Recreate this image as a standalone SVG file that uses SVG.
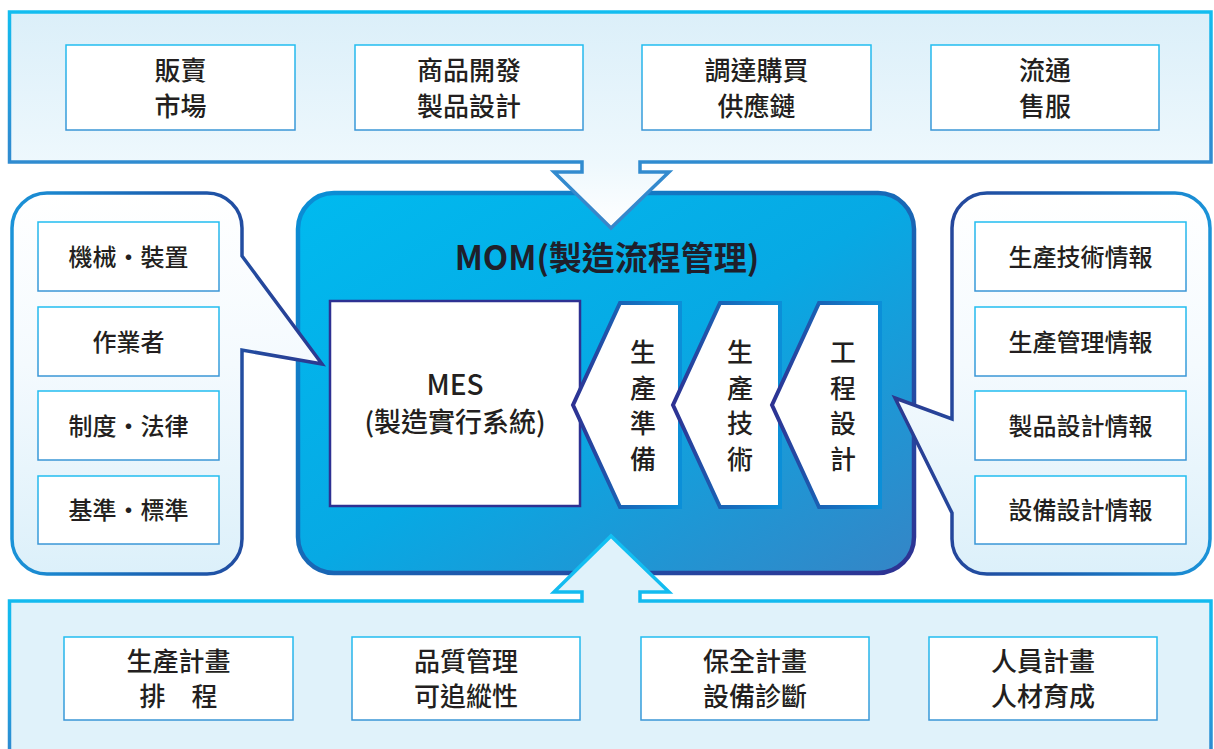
<svg xmlns="http://www.w3.org/2000/svg" width="1214" height="749" viewBox="0 0 1214 749">
<defs>
<linearGradient id="bandTopFill" gradientUnits="userSpaceOnUse" x1="0" y1="12" x2="0" y2="228"><stop offset="0" stop-color="#dbeff9"/><stop offset="0.7" stop-color="#eef8fd"/><stop offset="1" stop-color="#ffffff"/></linearGradient>
<linearGradient id="bandTopStroke" gradientUnits="userSpaceOnUse" x1="0" y1="12" x2="0" y2="228"><stop offset="0" stop-color="#12bdf0"/><stop offset="0.6" stop-color="#2d8dd2"/><stop offset="1" stop-color="#3a86c9"/></linearGradient>
<linearGradient id="bandBotStroke" gradientUnits="userSpaceOnUse" x1="0" y1="536" x2="0" y2="749"><stop offset="0" stop-color="#12c0f2"/><stop offset="0.6" stop-color="#14b5ec"/><stop offset="1" stop-color="#2e8ad0"/></linearGradient>
<linearGradient id="momFill" x1="0" y1="0" x2="1" y2="1"><stop offset="0" stop-color="#00baef"/><stop offset="0.5" stop-color="#07a9e4"/><stop offset="1" stop-color="#3585c6"/></linearGradient>
<linearGradient id="momStroke" x1="0" y1="0" x2="1" y2="1"><stop offset="0" stop-color="#0a8fd6"/><stop offset="0.5" stop-color="#1868b6"/><stop offset="1" stop-color="#2e3192"/></linearGradient>
<linearGradient id="calloutFill" x1="0" y1="0" x2="0" y2="1"><stop offset="0" stop-color="#ffffff"/><stop offset="0.45" stop-color="#f4fafe"/><stop offset="1" stop-color="#dcf0fa"/></linearGradient>
<linearGradient id="leftStroke" x1="0" y1="0" x2="1" y2="0"><stop offset="0" stop-color="#1b93d8"/><stop offset="0.5" stop-color="#1a5fb0"/><stop offset="1" stop-color="#2b3990"/></linearGradient>
<linearGradient id="rightStroke" x1="0" y1="0" x2="1" y2="0"><stop offset="0" stop-color="#2b3990"/><stop offset="0.5" stop-color="#1a5fb0"/><stop offset="1" stop-color="#1b93d8"/></linearGradient>
<linearGradient id="chevStroke" x1="0" y1="0" x2="1" y2="0"><stop offset="0" stop-color="#2e3192"/><stop offset="0.45" stop-color="#1a63b5"/><stop offset="1" stop-color="#0b8fd8"/></linearGradient>
<linearGradient id="boxStroke" x1="0" y1="0" x2="0" y2="1"><stop offset="0" stop-color="#22bdf0"/><stop offset="1" stop-color="#3a96d6"/></linearGradient>
</defs>
<style>
text{font-family:"Noto Sans CJK TC","Noto Sans",sans-serif;fill:#231f20;text-anchor:middle;font-weight:500}
.big{font-size:26px}
.mid{font-size:24px}
.title{font-size:33px;font-weight:bold;fill:#1f1f2b}
.box{fill:#ffffff;stroke:url(#boxStroke);stroke-width:1.5}
.chev{fill:#ffffff;stroke:url(#chevStroke);stroke-width:4;stroke-linejoin:miter}
</style>

<g id="mom">
<rect x="298" y="193" width="616" height="380" rx="36" fill="url(#momFill)" stroke="url(#momStroke)" stroke-width="4.5"/>
<text class="title" x="607" y="270">MOM(製造流程管理)</text>
</g>

<g id="top-band">
<path d="M9.5,12 H1211 V162 H640 V172 H669 L611,228 L554,172 H582 V162 H9.5 Z" fill="url(#bandTopFill)" stroke="url(#bandTopStroke)" stroke-width="3.5" stroke-linejoin="miter"/>
</g>
<g id="bottom-band">
<path d="M9.5,601 H582 V592 H554 L611,536 L669,592 H640 V601 H1211 V760 H9.5 Z" fill="#e0f2fa" stroke="url(#bandBotStroke)" stroke-width="3.5" stroke-linejoin="miter"/>
</g>

<g id="left-callout">
<path d="M47,193 H207 A35,35 0 0 1 242,228 V256 L322,364 L242,350 V539 A35,35 0 0 1 207,574 H47 A35,35 0 0 1 12,539 V228 A35,35 0 0 1 47,193 Z" fill="url(#calloutFill)" stroke="url(#leftStroke)" stroke-width="3.5" stroke-linejoin="miter"/>
</g>
<g id="right-callout">
<path d="M987,193 H1175 A35,35 0 0 1 1210,228 V539 A35,35 0 0 1 1175,574 H987 A35,35 0 0 1 952,539 V513 L895,398 L952,419 V228 A35,35 0 0 1 987,193 Z" fill="url(#calloutFill)" stroke="url(#rightStroke)" stroke-width="3.5" stroke-linejoin="miter"/>
</g>

<g id="top-1"><rect class="box" x="66" y="45" width="229" height="85"/><text class="big"><tspan x="180.5" y="80">販賣</tspan><tspan x="180.5" y="116">市場</tspan></text></g>
<g id="top-2"><rect class="box" x="355" y="45" width="228" height="85"/><text class="big"><tspan x="469" y="80">商品開發</tspan><tspan x="469" y="116">製品設計</tspan></text></g>
<g id="top-3"><rect class="box" x="642" y="45" width="229" height="85"/><text class="big"><tspan x="756.5" y="80">調達購買</tspan><tspan x="756.5" y="116">供應鏈</tspan></text></g>
<g id="top-4"><rect class="box" x="931" y="45" width="228" height="85"/><text class="big"><tspan x="1045" y="80">流通</tspan><tspan x="1045" y="116">售服</tspan></text></g>

<g id="bot-1"><rect class="box" x="64" y="637" width="229" height="83"/><text class="big"><tspan x="178.5" y="671">生產計畫</tspan><tspan x="178.5" y="706">排　程</tspan></text></g>
<g id="bot-2"><rect class="box" x="352" y="637" width="228" height="83"/><text class="big"><tspan x="466" y="671">品質管理</tspan><tspan x="466" y="706">可追縱性</tspan></text></g>
<g id="bot-3"><rect class="box" x="641" y="637" width="228" height="83"/><text class="big"><tspan x="755" y="671">保全計畫</tspan><tspan x="755" y="706">設備診斷</tspan></text></g>
<g id="bot-4"><rect class="box" x="929" y="637" width="228" height="83"/><text class="big"><tspan x="1043" y="671">人員計畫</tspan><tspan x="1043" y="706">人材育成</tspan></text></g>

<g id="left-1"><rect class="box" x="38" y="222" width="181" height="69"/><text class="mid" x="128.5" y="266">機械・裝置</text></g>
<g id="left-2"><rect class="box" x="38" y="307" width="181" height="69"/><text class="mid" x="128.5" y="351">作業者</text></g>
<g id="left-3"><rect class="box" x="38" y="391" width="181" height="69"/><text class="mid" x="128.5" y="435">制度・法律</text></g>
<g id="left-4"><rect class="box" x="38" y="476" width="181" height="68"/><text class="mid" x="128.5" y="519">基準・標準</text></g>

<g id="right-1"><rect class="box" x="975" y="222" width="211" height="69"/><text class="mid" x="1080.5" y="266">生產技術情報</text></g>
<g id="right-2"><rect class="box" x="975" y="307" width="211" height="69"/><text class="mid" x="1080.5" y="351">生產管理情報</text></g>
<g id="right-3"><rect class="box" x="975" y="391" width="211" height="69"/><text class="mid" x="1080.5" y="435">製品設計情報</text></g>
<g id="right-4"><rect class="box" x="975" y="476" width="211" height="68"/><text class="mid" x="1080.5" y="519">設備設計情報</text></g>

<g id="mes">
<rect x="330" y="301" width="250" height="205" fill="#ffffff" stroke="#2e3192" stroke-width="2.5"/>
<text class="big"><tspan x="455" y="395" style="font-size:28px">MES</tspan><tspan x="455" y="432" style="font-size:27px">(製造實行系統)</tspan></text>
</g>

<g id="chev-1">
<polygon class="chev" points="620,303 680,303 680,507 620,507 573,405"/>
<text class="big"><tspan x="643" y="362">生</tspan><tspan x="643" y="397.5">產</tspan><tspan x="643" y="433">準</tspan><tspan x="643" y="468.5">備</tspan></text>
</g>
<g id="chev-2">
<polygon class="chev" points="720,303 780,303 780,507 720,507 673,405"/>
<text class="big"><tspan x="740" y="362">生</tspan><tspan x="740" y="397.5">產</tspan><tspan x="740" y="433">技</tspan><tspan x="740" y="468.5">術</tspan></text>
</g>
<g id="chev-3">
<polygon class="chev" points="819,303 880,303 880,507 819,507 772,405"/>
<text class="big"><tspan x="843" y="362">工</tspan><tspan x="843" y="397.5">程</tspan><tspan x="843" y="433">設</tspan><tspan x="843" y="468.5">計</tspan></text>
</g>
</svg>
